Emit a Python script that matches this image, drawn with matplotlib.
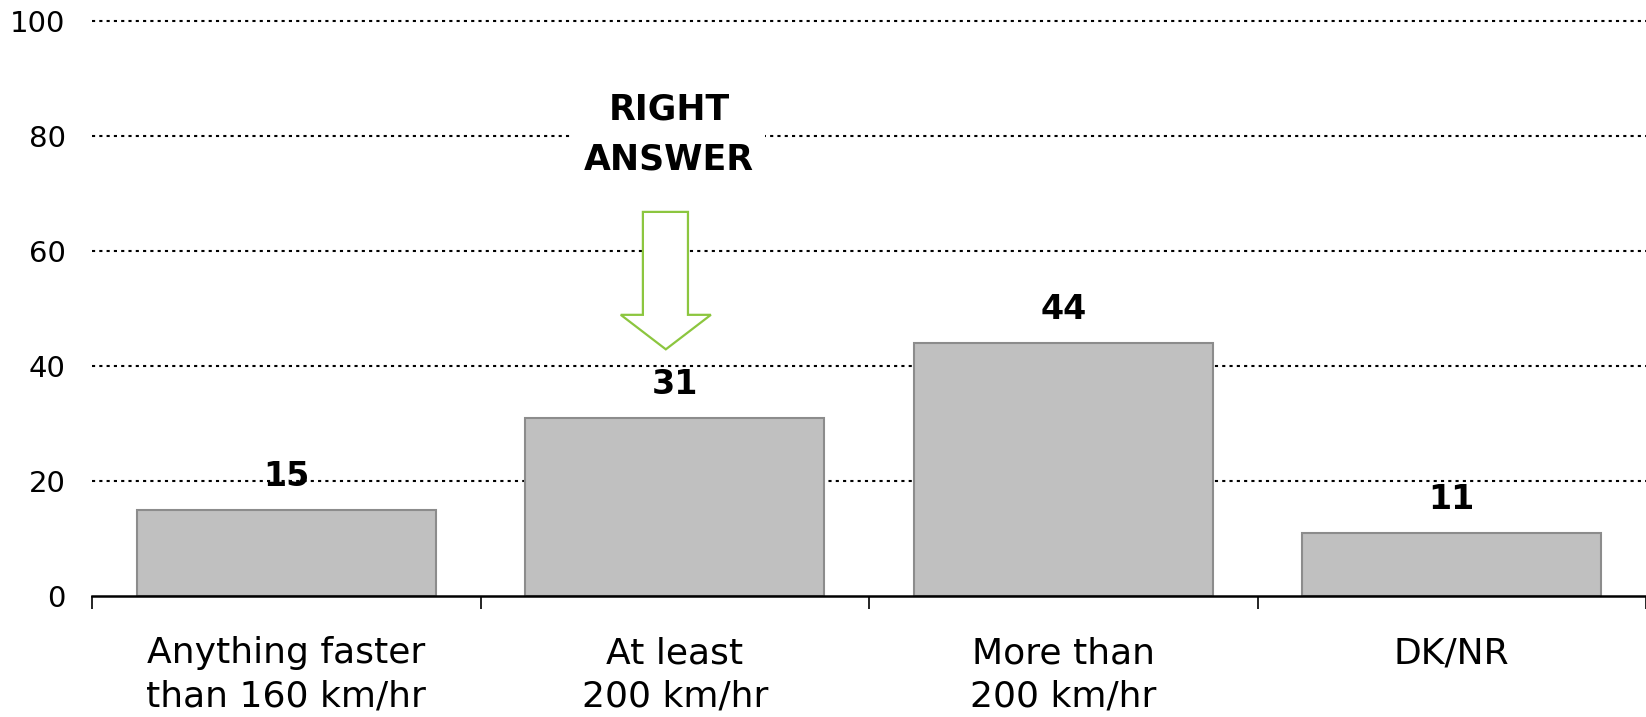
import matplotlib
matplotlib.use('Agg')
import matplotlib.pyplot as plt
from matplotlib.patches import Polygon

plt.rcParams['font.family'] = ['DejaVu Sans']

categories = ['Anything faster\nthan 160 km/hr', 'At least\n200 km/hr',
              'More than\n200 km/hr', 'DK/NR']
values = [15, 31, 44, 11]
y_ticks = [0, 20, 40, 60, 80, 100]
right_answer = 1  # index of the correct category

fig = plt.figure(figsize=(16.46, 7.17), dpi=100)
ax = fig.add_axes([92 / 1646, 121 / 717, (1646 - 92) / 1646, 575 / 717])

x = list(range(len(categories)))
ax.bar(x, values, width=0.77, color='#c0c0c0', edgecolor='#8c8c8c',
       linewidth=1.5, zorder=3)

for xi, v in zip(x, values):
    ax.annotate(str(v), (xi, v), xytext=(0, 24), textcoords='offset points',
                ha='center', va='center', fontsize=24, fontweight='bold',
                zorder=4)

ax.set_xlim(-0.5, len(categories) - 0.5)
ax.set_ylim(0, 100)
ax.set_yticks(y_ticks)
ax.tick_params(axis='y', length=0, pad=19, labelsize=21)
ax.set_xticks(x)
ax.set_xticklabels(categories, fontsize=26, linespacing=1.36)
ax.tick_params(axis='x', which='major', length=0, pad=29)
ax.set_xticks([i - 0.5 for i in range(len(categories) + 1)], minor=True)
ax.tick_params(axis='x', which='minor', length=9, width=1.2, direction='out')

for s in ['left', 'right', 'top']:
    ax.spines[s].set_visible(False)
ax.spines['bottom'].set_linewidth(1.8)
ax.spines['bottom'].set_zorder(5)

for t in y_ticks[1:]:
    ax.axhline(t, color='black', linewidth=1.5, linestyle=(0, (1.5, 2)),
               zorder=1, clip_on=False)

# arrow pointing at the right answer
c = right_answer - 0.023
arrow = [(c - 0.059, 66.8), (c + 0.057, 66.8), (c + 0.057, 48.9),
         (c + 0.116, 48.9), (c, 42.9), (c - 0.116, 48.9), (c - 0.059, 48.9)]
ax.add_patch(Polygon(arrow, closed=True, facecolor='white',
                     edgecolor='#8cc63f', linewidth=1.6, zorder=4))

ax.text(right_answer - 0.015, 80.3, 'RIGHT\nANSWER', ha='center', va='center',
        fontsize=25, fontweight='bold', linespacing=1.6, zorder=4,
        bbox=dict(facecolor='white', edgecolor='none', pad=8))

fig.savefig('out.png', dpi=100)
